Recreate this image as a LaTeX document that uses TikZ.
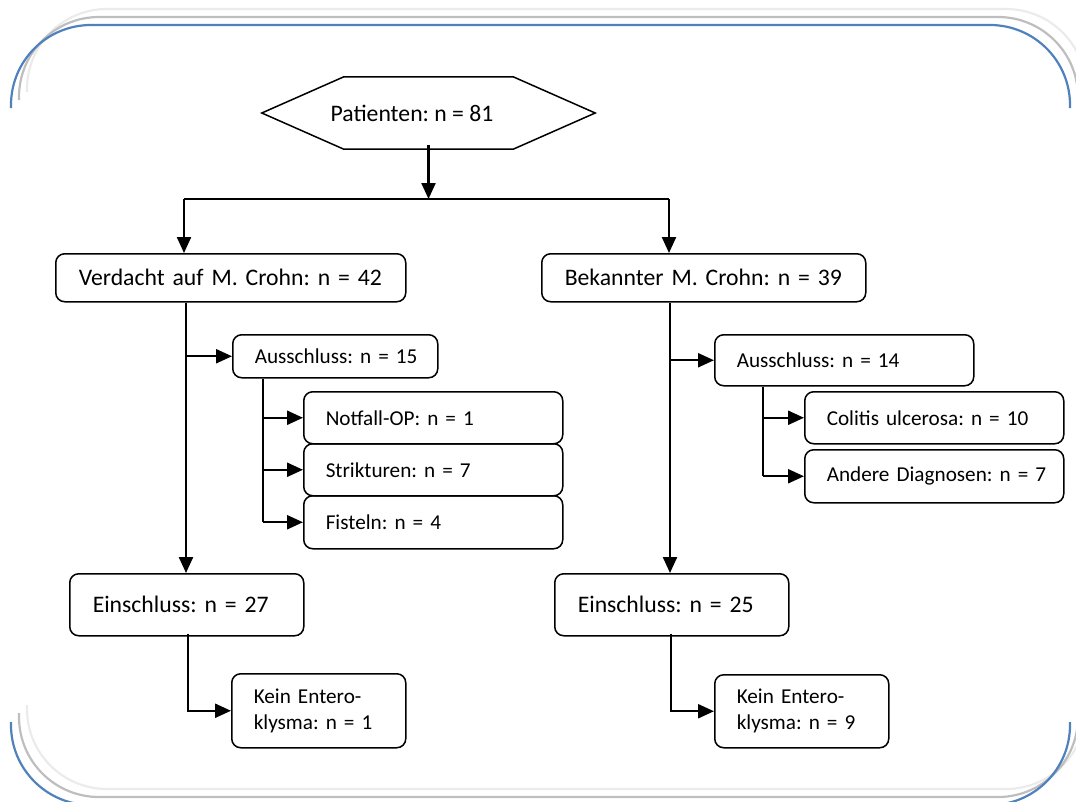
\documentclass[tikz,border=0pt]{standalone}
\usepackage{fontspec}
\setmainfont{Carlito}
\usetikzlibrary{arrows.meta}
\definecolor{frameblue}{RGB}{79,129,189}
\definecolor{framegray}{RGB}{190,190,190}
\definecolor{framelight}{RGB}{235,235,235}
\frenchspacing
\begin{document}
\begin{tikzpicture}[x=1pt,y=-1pt,
  box/.style={draw=black, line width=1.5pt, rounded corners=9pt, anchor=north west,
    inner xsep=23pt, inner ysep=0pt, align=left, font=\fontsize{23.7}{28}\selectfont\frenchspacing},
  sbox/.style={box, inner xsep=22pt, font=\fontsize{21.2}{26}\selectfont\frenchspacing},
  conn/.style={line width=2.3pt},
  arr/.style={conn, -{Triangle[length=16pt,width=14pt]}},
  frame/.style={line width=2.2pt, rounded corners=80pt},
]
\useasboundingbox (0,0) rectangle (1076,801);
% frame
\draw[frame, framelight] (27,92) -- (27,9) -- (1086,9) -- (1086,92);
\draw[frame, framelight] (27,705) -- (27,789) -- (1086,789) -- (1086,705);
\draw[frame, framegray] (19,100) -- (19,17) -- (1078,17) -- (1078,100);
\draw[frame, framegray] (19,713) -- (19,797) -- (1078,797) -- (1078,713);
\draw[frame, frameblue] (11,108) -- (11,25) -- (1070,25) -- (1070,108);
\draw[frame, frameblue] (11,722) -- (11,805) -- (1070,805) -- (1070,722);

% hexagon
\node[minimum width=333pt, minimum height=72pt, inner sep=0pt,
      font=\fontsize{23.7}{28}\selectfont\frenchspacing] (pat) at (428.5,113) {Patienten: n = 81\hspace*{33pt}};
\draw[line width=1.5pt, line join=miter] (pat.west) -- ([xshift=82pt]pat.north west) -- ([xshift=-82pt]pat.north east)
  -- (pat.east) -- ([xshift=-82pt]pat.south east) -- ([xshift=82pt]pat.south west) -- cycle;

% level 1
\node[box, text width=304pt, minimum height=48pt] (v) at (55,253) {\mbox{Verdacht auf M. Crohn: n = 42}};
\node[box, text width=278pt, minimum height=48pt] (b) at (541,253) {\mbox{Bekannter M. Crohn: n = 39}};

% left exclusions
\node[sbox, text width=161pt, minimum height=43pt] (a1) at (232,334) {\mbox{Ausschluss: n = 15}};
\node[sbox, text width=215pt, minimum height=52pt] (n1) at (303,391) {\mbox{Notfall-OP: n = 1}};
\node[sbox, text width=215pt, minimum height=52pt] (s1) at (303,443) {\mbox{Strikturen: n = 7}};
\node[sbox, text width=215pt, minimum height=53pt] (f1) at (303,495) {\mbox{Fisteln: n = 4}};

% right exclusions
\node[sbox, text width=215pt, minimum height=51pt] (a2) at (714,334) {\mbox{Ausschluss: n = 14}};
\node[sbox, text width=215pt, minimum height=52pt] (c2) at (804,391) {\mbox{Colitis ulcerosa: n = 10}};
\node[sbox, text width=215pt, minimum height=53pt] (d2) at (804,449) {\mbox{Andere Diagnosen: n = 7}};

% inclusion
\node[box, text width=188pt, minimum height=62pt] (e1) at (69,573) {\mbox{Einschluss: n = 27}};
\node[box, text width=188pt, minimum height=62pt] (e2) at (554,573) {\mbox{Einschluss: n = 25}};

\node[sbox, text width=130pt, minimum height=74pt] (k1) at (231,673) {Kein Entero-\\klysma: n = 1};
\node[sbox, text width=130pt, minimum height=73pt] (k2) at (714,674) {Kein Entero-\\klysma: n = 9};

% coordinates
\coordinate (split) at (428.5,199);
\coordinate (sl) at (184,199);
\coordinate (sr) at (669,199);
\coordinate (lv) at (186,0);
\coordinate (rv) at (670,0);
\coordinate (lsub) at (263,0);
\coordinate (rsub) at (763,0);
\coordinate (lk) at (188,0);
\coordinate (rk) at (671,0);

% connectors
\draw[arr] ([yshift=4pt]pat.south) -- (split);
\draw[conn] (sl) -- (sr);
\draw[arr] (sl) -- (sl |- v.north);
\draw[arr] (sr) -- (sr |- b.north);

\draw[arr] (lv |- v.south) -- (lv |- e1.north);
\draw[arr] (lv |- a1.west) -- (a1.west);
\draw[conn] (lsub |- a1.south) -- (lsub |- f1.west);
\draw[arr] (lsub |- n1.west) -- (n1.west);
\draw[arr] (lsub |- s1.west) -- (s1.west);
\draw[arr] (lsub |- f1.west) -- (f1.west);

\draw[arr] (rv |- b.south) -- (rv |- e2.north);
\draw[arr] (rv |- a2.west) -- (a2.west);
\draw[conn] (rsub |- a2.south) -- (rsub |- d2.west);
\draw[arr] (rsub |- c2.west) -- (c2.west);
\draw[arr] (rsub |- d2.west) -- (d2.west);

\draw[arr] ([yshift=3pt]lk |- e1.south) |- (k1.west);
\draw[arr] ([yshift=3pt]rk |- e2.south) |- (k2.west);
\end{tikzpicture}
\end{document}
